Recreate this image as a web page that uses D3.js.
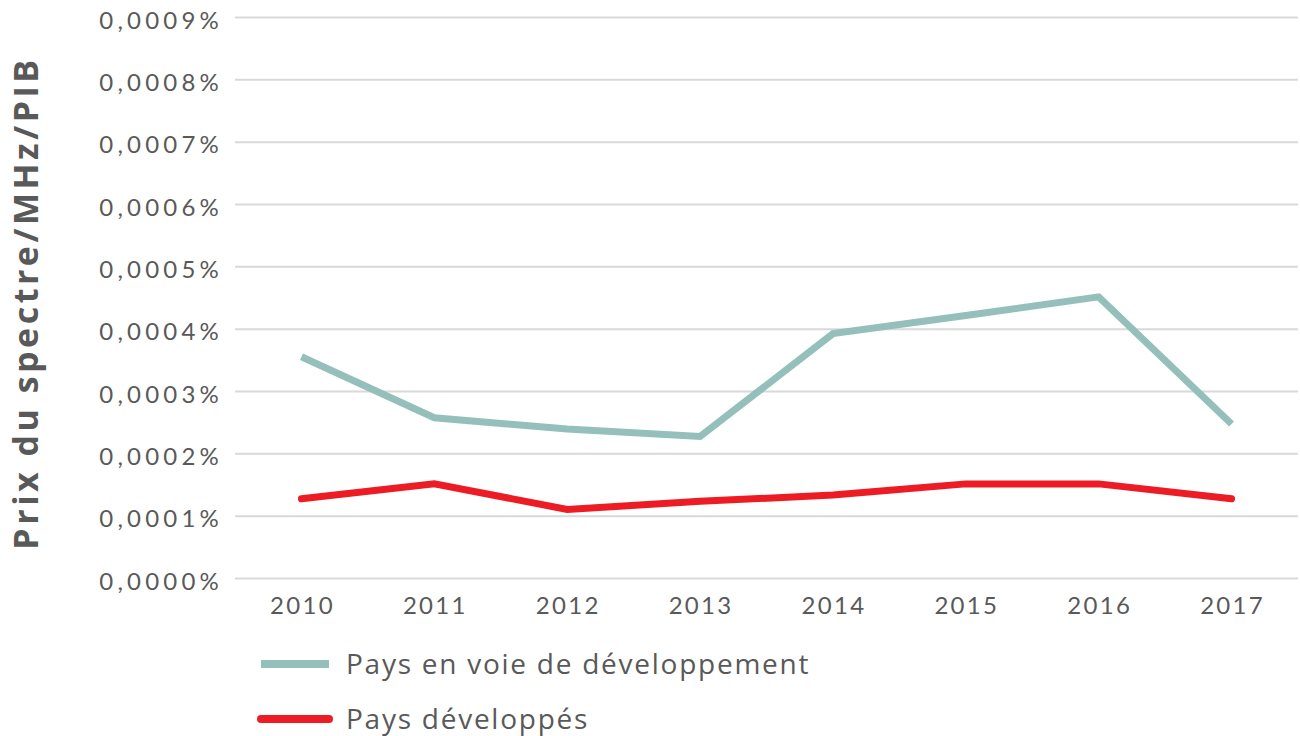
<!DOCTYPE html>
<html>
<head>
<meta charset="utf-8">
<script src="https://cdn.jsdelivr.net/npm/d3@7"></script>
<style>
  body { margin: 0; background: #fff; }
  svg { display: block; }
</style>
</head>
<body>
<svg id="chart" width="1300" height="736"></svg>
<script>
// DATA
const years = ["2010", "2011", "2012", "2013", "2014", "2015", "2016", "2017"]
const developing = [0.000355, 0.000257, 0.000239, 0.000227, 0.000392, 0.000421, 0.000451, 0.000247]
const developed = [0.000127, 0.000151, 0.000110, 0.000123, 0.000133, 0.000151, 0.000151, 0.000127]
const yTicks = [0, 0.0001, 0.0002, 0.0003, 0.0004, 0.0005, 0.0006, 0.0007, 0.0008, 0.0009]
const seriesNames = ["Pays en voie de développement", "Pays développés"]

let margins = {top: 17, left: 235, right: 2}
let svgWidth = 1300 - margins.left - margins.right
let svgHeight = 578 - margins.top

let x = d3.scaleBand().domain(years).range([0, svgWidth])
let y = d3.scaleLinear().domain([0, 0.0009]).range([svgHeight, 0])

let chartContainer = d3.select("#chart")
let chart = chartContainer.append('g')
    .attr('transform', `translate(${margins.left},${margins.top})`)

// values are already percentages
let fmt = v => v.toFixed(4).replace('.', ',') + '%'

// Y AXIS + GRIDLINES
let yAxis = chart.append('g')
    .call(d3.axisLeft(y).tickValues(yTicks).tickSize(-svgWidth).tickFormat(fmt))
yAxis.select('.domain').remove()
yAxis.selectAll('.tick line').attr('stroke', '#d9d9d9').attr('stroke-width', 2)
yAxis.selectAll('.tick text')
    .attr('x', -12)
    .attr('dy', 11)
    .attr('fill', '#595959')
    .attr('font-family', 'Lato, sans-serif')
    .attr('font-size', 24)
    .attr('letter-spacing', 4.2)

// X AXIS
let xAxis = chart.append('g')
    .attr('transform', `translate(0,${svgHeight})`)
    .call(d3.axisBottom(x).tickSize(0))
xAxis.select('.domain').remove()
xAxis.selectAll('.tick text')
    .attr('dy', 0)
    .attr('y', 36)
    .attr('x', 1)
    .attr('fill', '#595959')
    .attr('font-family', 'Lato, sans-serif')
    .attr('font-size', 24)
    .attr('letter-spacing', 2.3)

// LINES
let line = d3.line()
    .x((d, i) => x(years[i]) + x.bandwidth() / 2)
    .y(d => y(d))

chart.append('path')
    .datum(developing)
    .attr('fill', 'none')
    .attr('stroke', '#95bfbb')
    .attr('stroke-width', 7)
    .attr('stroke-linejoin', 'miter')
    .attr('d', line)

chart.append('path')
    .datum(developed)
    .attr('fill', 'none')
    .attr('stroke', '#ed1c24')
    .attr('stroke-width', 7)
    .attr('stroke-linecap', 'round')
    .attr('d', line)

// Y AXIS TITLE
chartContainer.append('text')
    .attr('transform', 'translate(38,303) rotate(-90)')
    .attr('text-anchor', 'middle')
    .attr('fill', '#595959')
    .attr('font-family', '"Open Sans", sans-serif')
    .attr('font-weight', 'bold')
    .attr('font-size', 34)
    .attr('letter-spacing', 3.5)
    .text("Prix du spectre/MHz/PIB")

// LEGEND
let legend = chartContainer.append('g')
let legendColors = ['#95bfbb', '#ed1c24']
seriesNames.forEach((name, i) => {
    let ly = 664 + i * 55
    legend.append('line')
        .attr('x1', 261)
        .attr('x2', 329)
        .attr('y1', ly).attr('y2', ly)
        .attr('stroke', legendColors[i])
        .attr('stroke-width', 8)
        .attr('stroke-linecap', i == 0 ? 'butt' : 'round')
    legend.append('text')
        .attr('x', 346)
        .attr('y', ly + 10)
        .attr('fill', '#595959')
        .attr('font-family', '"Open Sans", sans-serif')
        .attr('font-size', 28)
        .attr('letter-spacing', 1.75)
        .text(name)
})
</script>
</body>
</html>
